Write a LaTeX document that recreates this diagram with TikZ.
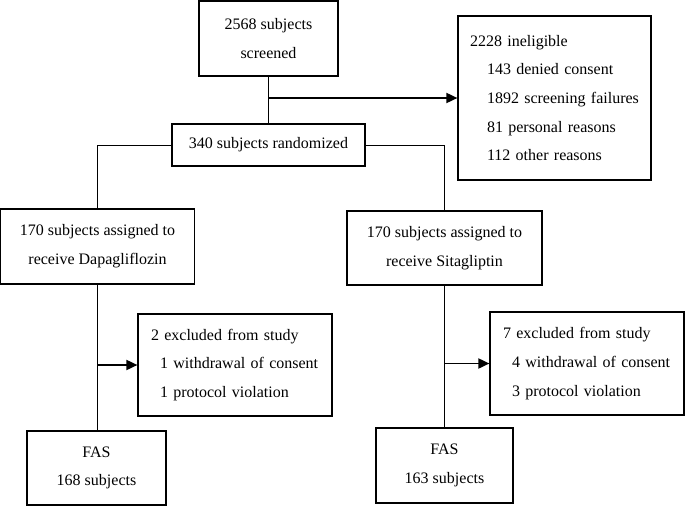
\documentclass[tikz,border=0pt]{standalone}
\usepackage{fontspec}
\setmainfont{Liberation Serif}
\usetikzlibrary{arrows.meta}

\begin{document}
\begin{tikzpicture}[x=1pt,y=-1pt,
    box/.style={draw,line width=1.2pt,align=center,inner sep=0pt,
      font=\fontsize{16}{28.7}\selectfont},
    listbox/.style={box,align=left,inner ysep=0pt},
    conn/.style={line width=0.9pt},
    link/.style={line width=1.8pt,-{Triangle[length=11pt,width=10pt]}}]
            \useasboundingbox (0,0) rectangle (685,506);

            \node[box,minimum width=139pt,minimum height=75pt] (screened) at (268.5,38.5) {2568 subjects\\screened};
            \node[listbox,text width=169pt,inner xsep=12pt,minimum height=164pt] (inelig) at (554.5,98)
                {2228 ineligible\\\hspace*{17pt}143 denied consent\\\hspace*{17pt}1892 screening failures\\\hspace*{17pt}81 personal reasons\\\hspace*{17pt}112 other reasons};
            \node[box,minimum width=193pt,minimum height=42pt] (random) at (268.5,145) {340 subjects randomized};

            \node[box,minimum width=194pt,minimum height=75pt] (dapa) at (97.5,246.5) {170 subjects assigned to\\receive Dapagliflozin};
            \node[box,minimum width=195pt,minimum height=74pt] (sita) at (444.5,248) {170 subjects assigned to\\receive Sitagliptin};

            \node[listbox,text width=168pt,inner xsep=13pt,minimum height=102pt] (exclL) at (235,365)
                {2 excluded from study\\\hspace*{9pt}1 withdrawal of consent\\\hspace*{9pt}1 protocol violation};
            \node[listbox,text width=168pt,inner xsep=13pt,minimum height=103pt] (exclR) at (587,363.5)
                {7 excluded from study\\\hspace*{9pt}4 withdrawal of consent\\\hspace*{9pt}3 protocol violation};

            \node[box,minimum width=139pt,minimum height=74pt] (fasL) at (96.5,468) {FAS\\168 subjects};
            \node[box,minimum width=137pt,minimum height=75pt] (fasR) at (444.5,465.5) {FAS\\163 subjects};

            \coordinate (split) at (screened.south |- inelig.west);
            \coordinate (splitL) at (dapa.south |- exclL.west);
            \coordinate (splitR) at (sita.south |- exclR.west);

            \draw[conn] (screened.south) -- (random.north);
            \draw[conn] (random.west) -| (dapa.north);
            \draw[conn] (random.east) -| (sita.north);
            \draw[conn] (dapa.south) -- (dapa.south |- fasL.north);
            \draw[conn] (sita.south) -- (sita.south |- fasR.north);

            \draw[link] (split) -- (inelig.west);
            \draw[link] (splitL) -- (exclL.west);
            \draw[link] (splitR) -- (exclR.west);
        \end{tikzpicture}
\end{document}
